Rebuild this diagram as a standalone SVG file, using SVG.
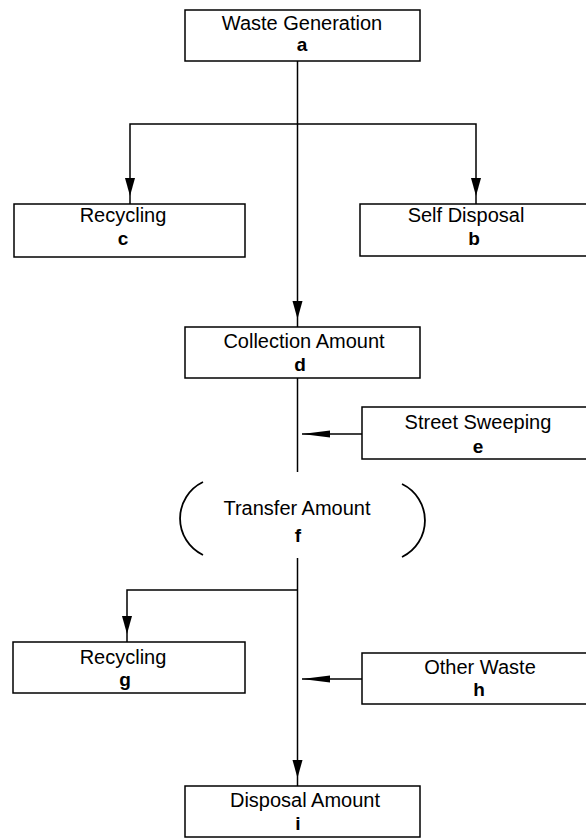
<svg xmlns="http://www.w3.org/2000/svg" width="586" height="840" viewBox="0 0 586 840">
<style>
.box{fill:#fff;stroke:#000;stroke-width:1.5}
.lbl{font-family:"Liberation Sans",Arial,sans-serif;font-size:20px;fill:#000;text-anchor:middle}
.ltr{font-family:"Liberation Sans",Arial,sans-serif;font-size:19px;font-weight:bold;fill:#000;text-anchor:middle}
.ln{fill:none;stroke:#000;stroke-width:1.5}
.paren{fill:none;stroke:#000;stroke-width:1.8}
</style>
<defs>
<marker id="ad" markerUnits="userSpaceOnUse" markerWidth="30" markerHeight="11" refX="26" refY="5" orient="auto">
<path d="M0,0 L18,5 L0,10 z" fill="#000"/>
</marker>
<marker id="ah" markerUnits="userSpaceOnUse" markerWidth="30" markerHeight="8" refX="28" refY="3.5" orient="auto">
<path d="M0,0 L28,3.5 L0,7 z" fill="#000"/>
</marker>
</defs>
<rect width="586" height="840" fill="#fff"/>
<g id="connectors">
<line class="ln" x1="297.5" y1="61" x2="297.5" y2="327" marker-end="url(#ad)"/>
<polyline class="ln" points="297.5,124 130,124 130,204" marker-end="url(#ad)"/>
<polyline class="ln" points="297.5,124 476,124 476,204" marker-end="url(#ad)"/>
<line class="ln" x1="297.5" y1="378" x2="297.5" y2="472"/>
<line class="ln" x1="362" y1="434" x2="302" y2="434" marker-end="url(#ah)"/>
<line class="ln" x1="297.5" y1="558" x2="297.5" y2="786" marker-end="url(#ad)"/>
<polyline class="ln" points="297.5,590 127,590 127,642" marker-end="url(#ad)"/>
<line class="ln" x1="362" y1="679" x2="302" y2="679" marker-end="url(#ah)"/>
</g>
<g id="node-a">
<rect class="box" x="185" y="10" width="235" height="51"/>
<text class="lbl" x="302" y="30">Waste Generation</text>
<text class="ltr" x="302" y="51">a</text>
</g>
<g id="node-c">
<rect class="box" x="14" y="204" width="231" height="53"/>
<text class="lbl" x="123" y="222">Recycling</text>
<text class="ltr" x="123" y="245">c</text>
</g>
<g id="node-b">
<rect class="box" x="360" y="204" width="240" height="52"/>
<text class="lbl" x="466" y="222">Self Disposal</text>
<text class="ltr" x="474" y="245">b</text>
</g>
<g id="node-d">
<rect class="box" x="185" y="327" width="235" height="51"/>
<text class="lbl" x="304" y="348">Collection Amount</text>
<text class="ltr" x="300" y="371">d</text>
</g>
<g id="node-e">
<rect class="box" x="362" y="407" width="240" height="52"/>
<text class="lbl" x="478" y="429">Street Sweeping</text>
<text class="ltr" x="478" y="453">e</text>
</g>
<g id="node-f">
<path class="paren" d="M203,482 A40.5,40.5 0 0 0 203,555"/>
<path class="paren" d="M402,484 A40.5,40.5 0 0 1 402,557"/>
<text class="lbl" x="297" y="515">Transfer Amount</text>
<text class="ltr" x="298" y="542">f</text>
</g>
<g id="node-g">
<rect class="box" x="13" y="642" width="232" height="51"/>
<text class="lbl" x="123" y="664">Recycling</text>
<text class="ltr" x="125" y="686">g</text>
</g>
<g id="node-h">
<rect class="box" x="362" y="653" width="240" height="51"/>
<text class="lbl" x="480" y="674">Other Waste</text>
<text class="ltr" x="479" y="696">h</text>
</g>
<g id="node-i">
<rect class="box" x="185" y="786" width="235" height="51"/>
<text class="lbl" x="305" y="807">Disposal Amount</text>
<text class="ltr" x="298" y="830">i</text>
</g>
</svg>
